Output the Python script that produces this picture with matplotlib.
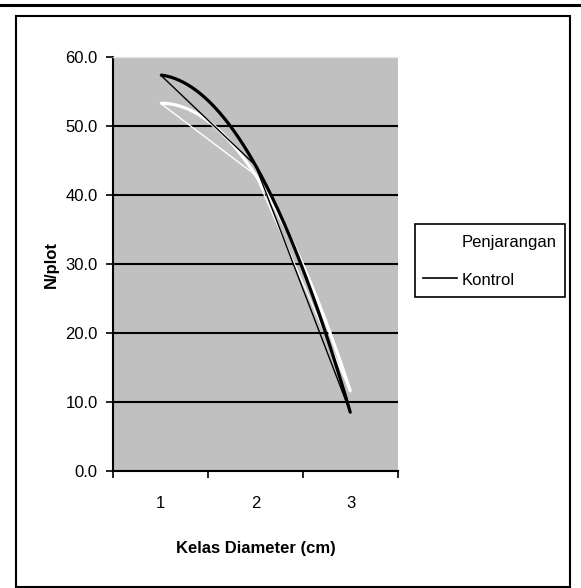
import matplotlib
matplotlib.use("Agg")
import matplotlib.pyplot as plt
import numpy as np
from matplotlib.lines import Line2D
from matplotlib.patches import Rectangle

plt.rcParams['font.family'] = ['Liberation Sans', 'DejaVu Sans']

# data
kelas = [1, 2, 3]
penjarangan = [53.3, 42.9, 11.5]
kontrol = [57.4, 44.3, 8.4]
y_ticks = [0, 10, 20, 30, 40, 50, 60]

fig = plt.figure(figsize=(5.81, 5.88), dpi=100)
ax = fig.add_axes([113 / 581, 1 - 471 / 588, 285 / 581, 414 / 588])
ax.set_facecolor('#C0C0C0')

xs = np.linspace(kelas[0], kelas[-1], 200)


def draw_series(yvals, color):
    # thick smoothed curve + thin straight one, as in the source chart
    coef = np.polyfit(kelas, yvals, 2)
    ax.plot(xs, np.polyval(coef, xs), color=color, lw=2.3, solid_capstyle='butt', zorder=3)
    ax.plot(kelas, yvals, color=color, lw=1.0, zorder=3)


draw_series(penjarangan, 'white')
draw_series(kontrol, 'black')

ax.set_xlim(0.5, 3.5)
ax.set_ylim(0, 60)

ax.set_yticks(y_ticks)
ax.set_yticklabels(["{:.1f}".format(v) for v in y_ticks])
ax.set_xticks(kelas)
ax.set_xticklabels([str(k) for k in kelas])
ax.set_xticks([0.5, 1.5, 2.5, 3.5], minor=True)

ax.tick_params(axis='x', which='major', length=0, pad=18, labelsize=12)
ax.tick_params(axis='x', which='minor', length=5, width=1.2, direction='out')
ax.tick_params(axis='y', length=5, width=1.2, direction='out', pad=6, labelsize=12)

for v in y_ticks[1:-1]:
    ax.axhline(v, color='black', lw=1.5, zorder=2)

ax.spines['right'].set_visible(False)
ax.spines['top'].set_color('#E6E6E6')
ax.spines['top'].set_linewidth(1)
ax.spines['left'].set_linewidth(1.5)
ax.spines['bottom'].set_linewidth(1.5)

ax.set_xlabel("Kelas Diameter (cm)", fontsize=12, fontweight='bold')
ax.xaxis.set_label_coords(0.5, -0.17)
ax.set_ylabel("N/plot", fontsize=12, fontweight='bold')
ax.yaxis.set_label_coords(-0.19, 0.5)

handles = [Line2D([], [], color='white', lw=1.2),
           Line2D([], [], color='black', lw=1.2)]
leg = ax.legend(handles, ["Penjarangan", "Kontrol"], loc='upper left',
                bbox_to_anchor=(415 / 581, 1 - 224 / 588), bbox_transform=fig.transFigure,
                fontsize=12, frameon=True, fancybox=False, framealpha=1,
                edgecolor='black', handlelength=2.0, handleheight=1.3,
                handletextpad=0.3, labelspacing=1.2, borderpad=0.5, borderaxespad=0)
leg.get_frame().set_linewidth(1.2)

# outer frame and top rule
fig.add_artist(Rectangle((16 / 581, 1 - 587 / 588), 554 / 581, 571 / 588,
                         transform=fig.transFigure, fill=False, edgecolor='black', lw=1.5))
fig.add_artist(Line2D([0, 1], [1 - 5 / 588, 1 - 5 / 588], transform=fig.transFigure,
                      color='black', lw=2.2))

fig.savefig("out.png", dpi=100)
